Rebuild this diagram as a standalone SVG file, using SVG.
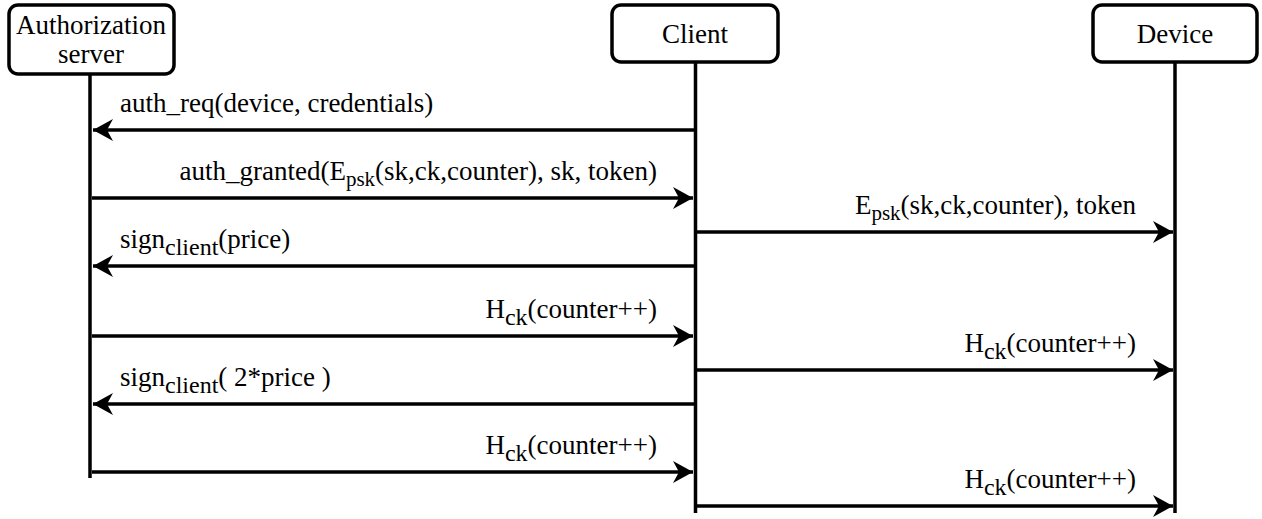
<svg xmlns="http://www.w3.org/2000/svg" width="1262" height="519" viewBox="0 0 1262 519">
<style>
  .box { fill: #fff; stroke: #000; stroke-width: 3.5; }
  .life { stroke: #000; stroke-width: 3.5; fill: none; }
  .msg { stroke: #000; stroke-width: 3.5; fill: none; marker-end: url(#arr); }
  text { font-family: 'Liberation Serif', 'Times New Roman', serif; font-size: 27px; fill: #000; }
  .c { text-anchor: middle; }
  .e { text-anchor: end; }
  .sub { font-size: 24px; }
  .subs { font-size: 21px; }
</style>
<defs>
  <marker id="arr" markerUnits="userSpaceOnUse" markerWidth="26" markerHeight="26" viewBox="-22 -13 24 26" refX="0" refY="0" orient="auto">
    <path d="M0,0 L-20,-11 L-14,0 L-20,11 Z" fill="#000"/>
  </marker>
</defs>
<g id="auth">
  <rect class="box" x="9" y="5" width="165" height="69" rx="9"/>
  <text class="c" x="91" y="34">Authorization</text>
  <text class="c" x="91" y="63">server</text>
</g>
<g id="client">
  <rect class="box" x="612" y="5" width="166" height="57" rx="9"/>
  <text class="c" x="695" y="43">Client</text>
</g>
<g id="device">
  <rect class="box" x="1093" y="5" width="164" height="57" rx="9"/>
  <text class="c" x="1175" y="43">Device</text>
</g>
<g id="connectors">
  <line class="life" x1="90" y1="74" x2="90" y2="478"/>
  <line class="life" x1="695.5" y1="62" x2="695.5" y2="513"/>
  <line class="life" x1="1175" y1="62" x2="1175" y2="513"/>
  <line class="msg" x1="694" y1="130" x2="93" y2="130"/>
  <line class="msg" x1="92" y1="198" x2="693" y2="198"/>
  <line class="msg" x1="697" y1="232" x2="1173" y2="232"/>
  <line class="msg" x1="694" y1="266" x2="93" y2="266"/>
  <line class="msg" x1="92" y1="336" x2="693" y2="336"/>
  <line class="msg" x1="697" y1="370" x2="1173" y2="370"/>
  <line class="msg" x1="694" y1="404" x2="93" y2="404"/>
  <line class="msg" x1="92" y1="472" x2="693" y2="472"/>
  <line class="msg" x1="697" y1="506" x2="1173" y2="506"/>
</g>
<g id="labels">
  <text x="120" y="112">auth_req(device, credentials)</text>
  <text class="e" x="657" y="180">auth_granted(E<tspan class="subs" dy="6">psk</tspan><tspan dy="-6">(sk,ck,counter), sk, token)</tspan></text>
  <text class="e" x="1136" y="214">E<tspan class="subs" dy="6">psk</tspan><tspan dy="-6">(sk,ck,counter), token</tspan></text>
  <text x="120" y="248">sign<tspan class="sub" dy="7">client</tspan><tspan dy="-7">(price)</tspan></text>
  <text class="e" x="657" y="318">H<tspan class="sub" dy="7">ck</tspan><tspan dy="-7">(counter++)</tspan></text>
  <text class="e" x="1136" y="352">H<tspan class="sub" dy="7">ck</tspan><tspan dy="-7">(counter++)</tspan></text>
  <text x="120" y="386">sign<tspan class="sub" dy="7">client</tspan><tspan dy="-7">( 2*price )</tspan></text>
  <text class="e" x="657" y="454">H<tspan class="sub" dy="7">ck</tspan><tspan dy="-7">(counter++)</tspan></text>
  <text class="e" x="1136" y="488">H<tspan class="sub" dy="7">ck</tspan><tspan dy="-7">(counter++)</tspan></text>
</g>
</svg>
